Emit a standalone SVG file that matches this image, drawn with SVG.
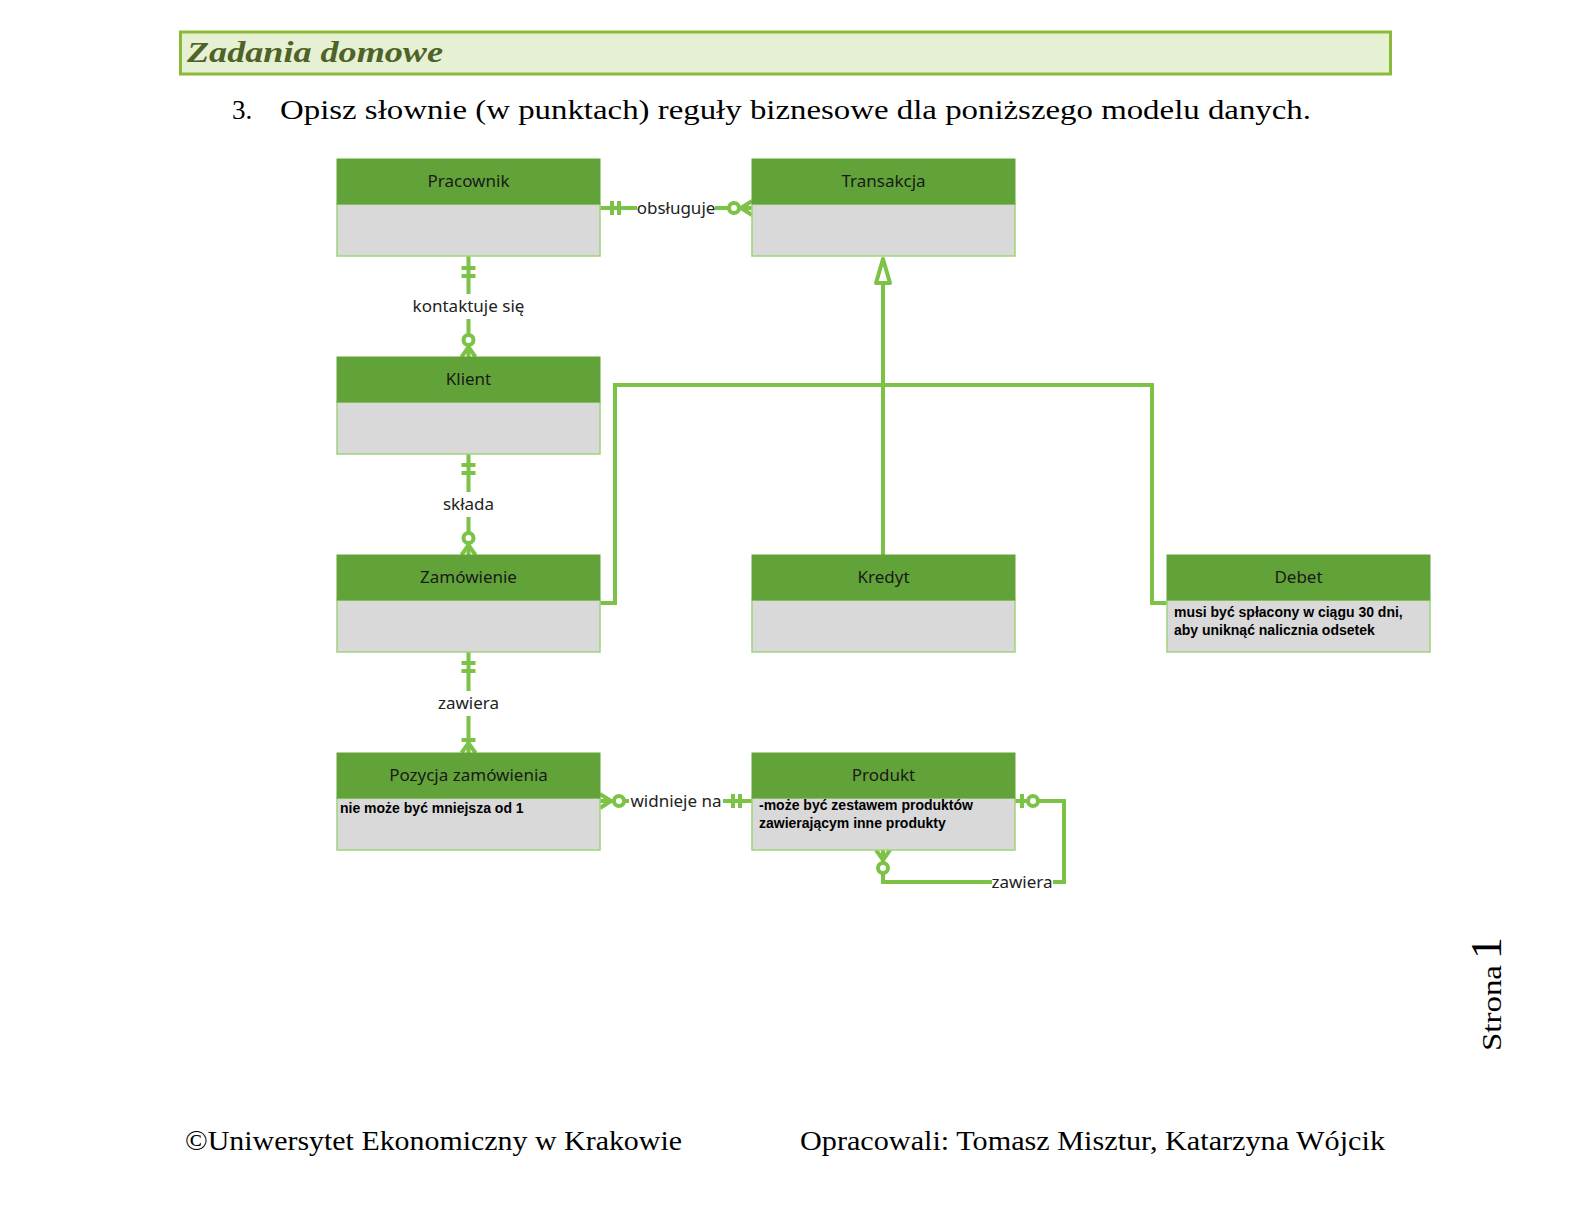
<svg xmlns="http://www.w3.org/2000/svg" width="1580" height="1230" viewBox="0 0 1580 1230">
<style>
.hdr{fill:#62a339;stroke:#62a339;stroke-width:1}
.body{fill:#d9d9d9;stroke:#9fd47a;stroke-width:1.5}
.ttl{font-family:"Noto Sans","Open Sans",sans-serif;font-size:17px;fill:#1a1a1a;text-anchor:middle}
.note{font-family:"Liberation Sans",Arial,sans-serif;font-size:14px;font-weight:bold;fill:#000}
.ln{fill:none;stroke:#7cc247;stroke-width:4;stroke-linejoin:miter}
.lbl{font-family:"Noto Sans","Open Sans",sans-serif;font-size:17px;fill:#222;text-anchor:middle}
.lblbg{fill:#fff}
.serif{font-family:"Liberation Serif","Times New Roman",serif;fill:#000}
</style>
<rect width="1580" height="1230" fill="#fff"/>
<rect x="180.5" y="32" width="1210" height="42" fill="#e6f1d4" stroke="#8ab93c" stroke-width="3"/>
<text x="187" y="62" font-family="'Liberation Serif',serif" font-size="29" font-weight="bold" font-style="italic" fill="#4f6228" textLength="256" lengthAdjust="spacingAndGlyphs">Zadania domowe</text>
<text class="serif" x="232" y="119" font-size="27">3.</text>
<text class="serif" x="280" y="119" font-size="27" textLength="1031" lengthAdjust="spacingAndGlyphs">Opisz słownie (w punktach) reguły biznesowe dla poniższego modelu danych.</text>

<g id="connectors">
<!-- Pracownik - Transakcja -->
<line class="ln" x1="600" y1="208" x2="752" y2="208"/>
<line class="ln" x1="612" y1="201" x2="612" y2="215"/>
<line class="ln" x1="619" y1="201" x2="619" y2="215"/>
<rect class="lblbg" x="637" y="196" width="78" height="24"/>
<text class="lbl" x="676" y="214">obsługuje</text>
<polyline class="ln" points="752,201 741,208 752,215"/>
<circle cx="734" cy="208" r="5" fill="#fff" stroke="#7cc247" stroke-width="4"/>

<!-- Pracownik - Klient -->
<line class="ln" x1="468.5" y1="256" x2="468.5" y2="357"/>
<line class="ln" x1="461.5" y1="268" x2="475.5" y2="268"/>
<line class="ln" x1="461.5" y1="276" x2="475.5" y2="276"/>
<rect class="lblbg" x="408" y="294" width="121" height="25"/>
<text class="lbl" x="468.5" y="312">kontaktuje się</text>
<polyline class="ln" points="461.5,357 468.5,347 475.5,357"/>
<circle cx="468.5" cy="340" r="5" fill="#fff" stroke="#7cc247" stroke-width="4"/>

<!-- Klient - Zamówienie -->
<line class="ln" x1="468.5" y1="454" x2="468.5" y2="555"/>
<line class="ln" x1="461.5" y1="465" x2="475.5" y2="465"/>
<line class="ln" x1="461.5" y1="473" x2="475.5" y2="473"/>
<rect class="lblbg" x="438" y="492" width="61" height="25"/>
<text class="lbl" x="468.5" y="510">składa</text>
<polyline class="ln" points="461.5,555 468.5,545 475.5,555"/>
<circle cx="468.5" cy="538" r="5" fill="#fff" stroke="#7cc247" stroke-width="4"/>

<!-- Zamówienie - Pozycja -->
<line class="ln" x1="468.5" y1="652" x2="468.5" y2="753"/>
<line class="ln" x1="461.5" y1="663" x2="475.5" y2="663"/>
<line class="ln" x1="461.5" y1="671" x2="475.5" y2="671"/>
<rect class="lblbg" x="433" y="691" width="71" height="25"/>
<text class="lbl" x="468.5" y="709">zawiera</text>
<line class="ln" x1="461.5" y1="740" x2="475.5" y2="740"/>
<polyline class="ln" points="461.5,753 468.5,743 475.5,753"/>

<!-- Pozycja - Produkt -->
<line class="ln" x1="600" y1="801" x2="752" y2="801"/>
<polyline class="ln" points="600,794 611,801 600,808"/>
<circle cx="619" cy="801" r="5" fill="#fff" stroke="#7cc247" stroke-width="4"/>
<rect class="lblbg" x="629" y="789" width="94" height="24"/>
<text class="lbl" x="676" y="807">widnieje na</text>
<line class="ln" x1="733" y1="794" x2="733" y2="808"/>
<line class="ln" x1="740" y1="794" x2="740" y2="808"/>

<!-- Produkt self -->
<polyline class="ln" points="1015,801 1064,801 1064,882 883,882 883,850"/>
<line class="ln" x1="1022" y1="794" x2="1022" y2="808"/>
<circle cx="1033" cy="801" r="5" fill="#fff" stroke="#7cc247" stroke-width="4"/>
<polyline class="ln" points="876,850 883,860 890,850"/>
<circle cx="883" cy="868" r="5" fill="#fff" stroke="#7cc247" stroke-width="4"/>
<rect class="lblbg" x="992" y="870" width="61" height="24"/>
<text class="lbl" x="1022" y="888">zawiera</text>

<!-- Inheritance -->
<line class="ln" x1="883" y1="284" x2="883" y2="555"/>
<polyline class="ln" points="600,603 615,603 615,385 1152,385 1152,603 1167,603"/>
<polygon points="883,259 876,283 890,283" fill="#fff" stroke="#7cc247" stroke-width="4" stroke-linejoin="round"/>
</g>

<g id="pracownik">
<rect class="body" x="337" y="204" width="263" height="52"/>
<rect class="hdr" x="337" y="159" width="263" height="45"/>
<text class="ttl" x="468.5" y="187">Pracownik</text>
</g>
<g id="transakcja">
<rect class="body" x="752" y="204" width="263" height="52"/>
<rect class="hdr" x="752" y="159" width="263" height="45"/>
<text class="ttl" x="883.5" y="187">Transakcja</text>
</g>
<g id="klient">
<rect class="body" x="337" y="402" width="263" height="52"/>
<rect class="hdr" x="337" y="357" width="263" height="45"/>
<text class="ttl" x="468.5" y="385">Klient</text>
</g>
<g id="zamowienie">
<rect class="body" x="337" y="600" width="263" height="52"/>
<rect class="hdr" x="337" y="555" width="263" height="45"/>
<text class="ttl" x="468.5" y="583">Zamówienie</text>
</g>
<g id="kredyt">
<rect class="body" x="752" y="600" width="263" height="52"/>
<rect class="hdr" x="752" y="555" width="263" height="45"/>
<text class="ttl" x="883.5" y="583">Kredyt</text>
</g>
<g id="debet">
<rect class="body" x="1167" y="600" width="263" height="52"/>
<rect class="hdr" x="1167" y="555" width="263" height="45"/>
<text class="ttl" x="1298.5" y="583">Debet</text>
<text class="note" x="1174" y="617">musi być spłacony w ciągu 30 dni,</text>
<text class="note" x="1174" y="635">aby uniknąć nalicznia odsetek</text>
</g>
<g id="pozycja">
<rect class="body" x="337" y="798" width="263" height="52"/>
<rect class="hdr" x="337" y="753" width="263" height="45"/>
<text class="ttl" x="468.5" y="781">Pozycja zamówienia</text>
<text class="note" x="340" y="813">nie może być mniejsza od 1</text>
</g>
<g id="produkt">
<rect class="body" x="752" y="798" width="263" height="52"/>
<rect class="hdr" x="752" y="753" width="263" height="45"/>
<text class="ttl" x="883.5" y="781">Produkt</text>
<text class="note" x="759" y="810">-może być zestawem produktów</text>
<text class="note" x="759" y="828">zawierającym inne produkty</text>
</g>

<g transform="translate(1501,1051) rotate(-90)">
<text class="serif" x="0" y="0" font-size="28" textLength="86" lengthAdjust="spacingAndGlyphs">Strona</text>
<text class="serif" x="92" y="0" font-size="44">1</text>
</g>
<text class="serif" x="185" y="1150" font-size="27" textLength="497" lengthAdjust="spacingAndGlyphs">©Uniwersytet Ekonomiczny w Krakowie</text>
<text class="serif" x="800" y="1150" font-size="27" textLength="585" lengthAdjust="spacingAndGlyphs">Opracowali: Tomasz Misztur, Katarzyna Wójcik</text>
</svg>
